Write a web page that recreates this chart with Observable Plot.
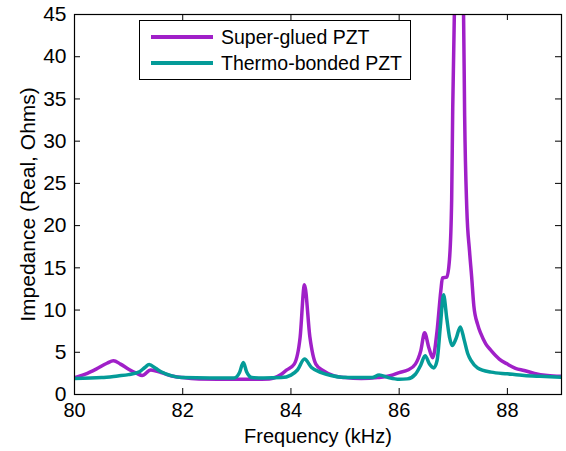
<!DOCTYPE html>
<html>
<head>
<meta charset="utf-8">
<script src="https://cdn.jsdelivr.net/npm/d3@7"></script>
<script src="https://cdn.jsdelivr.net/npm/@observablehq/plot@0.6"></script>
<style>
  body { margin: 0; background: #fff; }
  #wrap { position: relative; width: 566px; height: 451px; font-family: "Liberation Sans", Arial, sans-serif; }
  #legend { position: absolute; left: 139px; top: 20px; width: 270px; height: 58px; border: 1px solid #000; background: #fff; }
  .row { position: absolute; left: 0; height: 24px; display: flex; align-items: center; font-size: 19.5px; color: #000; }
  .sw { width: 62px; height: 4px; margin-left: 11px; margin-right: 8px; }
</style>
</head>
<body>
<div id="wrap"></div>
<script>
const seriesNames = ["Super-glued PZT", "Thermo-bonded PZT"];
const seriesColors = ["#a020c8", "#049b98"];
const xTicks = [80, 82, 84, 86, 88];
const yTicks = [0, 5, 10, 15, 20, 25, 30, 35, 40, 45];

// Super-glued PZT
const freqSG = [80.0, 80.2, 80.4, 80.6, 80.72, 80.85, 81.0, 81.15, 81.25, 81.41, 81.6, 81.8, 82.0, 82.3, 83.0, 83.6, 83.8, 83.91, 84.06, 84.17, 84.25, 84.35, 84.46, 84.59, 84.8, 85.0, 85.3, 85.6, 85.85, 86.0, 86.16, 86.3, 86.4, 86.47, 86.55, 86.62, 86.7, 86.77, 86.8, 86.88, 86.93, 86.97, 86.99, 87.02, 87.1, 87.19, 87.21, 87.25, 87.3, 87.34, 87.38, 87.45, 87.51, 87.6, 87.7, 87.85, 88.0, 88.15, 88.31, 88.5, 88.74, 89.0];
const impSG  = [2.0, 2.4, 3.0, 3.7, 4.0, 3.6, 3.0, 2.5, 2.25, 2.9, 2.6, 2.2, 2.0, 1.85, 1.8, 1.85, 2.3, 2.85, 3.6, 6.8, 13.0, 6.8, 3.6, 2.85, 2.2, 2.0, 1.9, 2.0, 2.25, 2.6, 2.9, 3.6, 5.2, 7.3, 5.5, 4.35, 7.5, 12.3, 13.8, 13.9, 16.0, 23.0, 34.0, 45.0, 60.0, 45.0, 33.0, 22.0, 17.0, 13.9, 10.5, 8.3, 7.2, 6.0, 5.2, 4.2, 3.6, 3.1, 2.85, 2.5, 2.25, 2.15];

// Thermo-bonded PZT
const freqTB = [80.0, 80.5, 80.8, 81.0, 81.2, 81.3, 81.38, 81.5, 81.6, 81.8, 82.0, 82.5, 82.95, 83.05, 83.12, 83.18, 83.28, 83.5, 83.82, 84.0, 84.12, 84.25, 84.38, 84.56, 84.74, 84.93, 85.2, 85.5, 85.63, 85.8, 86.0, 86.15, 86.3, 86.4, 86.48, 86.56, 86.64, 86.7, 86.76, 86.82, 86.88, 86.93, 86.98, 87.05, 87.13, 87.2, 87.27, 87.33, 87.45, 87.7, 88.0, 88.31, 88.6, 89.0];
const impTB  = [1.9, 2.0, 2.2, 2.35, 2.7, 3.2, 3.55, 3.1, 2.7, 2.2, 2.0, 1.95, 1.95, 2.6, 3.8, 2.7, 2.0, 1.95, 2.0, 2.3, 2.9, 4.2, 3.2, 2.6, 2.25, 2.05, 2.0, 2.0, 2.3, 2.0, 1.8, 1.85, 2.4, 3.5, 4.6, 3.6, 3.15, 4.0, 8.0, 11.8, 9.0, 6.8, 5.8, 6.6, 8.0, 6.5, 4.8, 4.0, 3.15, 2.65, 2.45, 2.25, 2.15, 2.05];

const sg = freqSG.map((f, i) => ({f, v: impSG[i]}));
const tb = freqTB.map((f, i) => ({f, v: impTB[i]}));

const W = 566, H = 451, mL = 74, mR = 5, mT = 14, mB = 57;
const pw = W - mL - mR, ph = H - mT - mB, tk = 6;

const chart = Plot.plot({
  width: W, height: H,
  marginLeft: mL, marginRight: mR, marginTop: mT, marginBottom: mB,
  style: { fontFamily: '"Liberation Sans", Arial, sans-serif', fontSize: "20px", color: "#000", background: "#fff" },
  x: { domain: [80, 89] },
  y: { domain: [0, 45] },
  marks: [
    Plot.line(sg, { x: "f", y: "v", stroke: seriesColors[0], strokeWidth: 3.5, curve: "monotone-x", clip: true }),
    Plot.line(tb, { x: "f", y: "v", stroke: seriesColors[1], strokeWidth: 3.5, curve: "monotone-x", clip: true }),
    Plot.tickY(yTicks, { y: d => d, insetRight: pw - tk, stroke: "#000" }),
    Plot.tickY(yTicks, { y: d => d, insetLeft: pw - tk, stroke: "#000" }),
    Plot.tickX(xTicks, { x: d => d, insetTop: ph - tk, stroke: "#000" }),
    Plot.tickX(xTicks, { x: d => d, insetBottom: ph - tk, stroke: "#000" }),
    Plot.frame({ stroke: "#000", strokeWidth: 1.2 }),
    Plot.axisX({ ticks: xTicks, tickSize: 0, tickPadding: 8, tickFormat: d => String(d), label: "Frequency (kHz)", labelAnchor: "center", labelArrow: false, labelOffset: 48 }),
    Plot.axisY({ ticks: yTicks, tickSize: 0, tickPadding: 8, tickFormat: d => String(d), label: "Impedance (Real, Ohms)", labelAnchor: "center", labelArrow: false, labelOffset: 54, fontSize: 21 })
  ]
});

const wrap = document.getElementById("wrap");
wrap.appendChild(chart);

const legend = document.createElement("div");
legend.id = "legend";
seriesNames.forEach((name, i) => {
  const row = document.createElement("div");
  row.className = "row";
  row.style.top = (4 + i * 26) + "px";
  const sw = document.createElement("div");
  sw.className = "sw";
  sw.style.background = seriesColors[i];
  const t = document.createElement("span");
  t.textContent = name;
  row.appendChild(sw);
  row.appendChild(t);
  legend.appendChild(row);
});
wrap.appendChild(legend);
</script>
</body>
</html>
